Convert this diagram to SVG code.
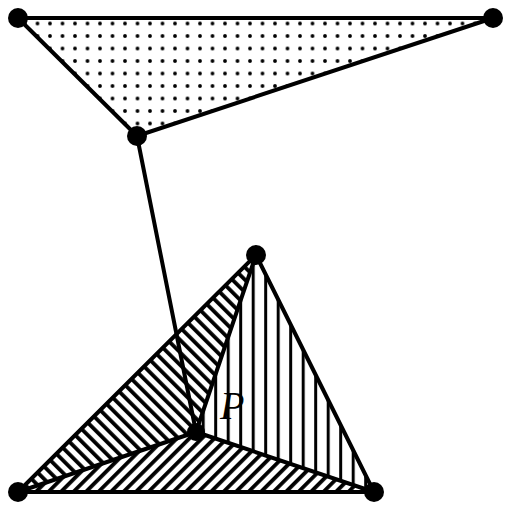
<svg xmlns="http://www.w3.org/2000/svg" width="512" height="512" viewBox="0 0 512 512">
<defs>
<pattern id="dots" patternUnits="userSpaceOnUse" x="0" y="11" width="12.5" height="12.5">
<circle cx="0" cy="0" r="1.9" fill="#000"/><circle cx="12.5" cy="0" r="1.9" fill="#000"/><circle cx="0" cy="12.5" r="1.9" fill="#000"/><circle cx="12.5" cy="12.5" r="1.9" fill="#000"/>
</pattern>
<pattern id="vlines" patternUnits="userSpaceOnUse" x="1.7" y="0" width="12.5" height="12.5">
<rect x="0" y="0" width="3" height="12.5" fill="#000"/>
</pattern>
<pattern id="ne" patternUnits="userSpaceOnUse" width="8.84" height="8.84" patternTransform="rotate(45)">
<rect x="0" y="0" width="3.8" height="8.84" fill="#000"/>
</pattern>
<pattern id="nw" patternUnits="userSpaceOnUse" width="8.84" height="8.84" patternTransform="rotate(-45)">
<rect x="0" y="0" width="3.8" height="8.84" fill="#000"/>
</pattern>
</defs>
<style>
.e{stroke:#000;stroke-width:4;stroke-linejoin:round;stroke-linecap:round;fill:none}
.v{fill:#000}
</style>
<g id="fills">
<polygon points="18,18 493,18 137,136" fill="url(#dots)"/>
<polygon points="18,492 256,255 196,432" fill="url(#nw)"/>
<polygon points="256,255 374,492 196,432" fill="url(#vlines)"/>
<polygon points="18,492 196,432 374,492" fill="url(#ne)"/>
</g>
<g id="connectors">
<polygon class="e" points="18,18 493,18 137,136"/>
<polygon class="e" points="18,492 256,255 374,492"/>
<line class="e" x1="18" y1="492" x2="196" y2="432"/>
<line class="e" x1="374" y1="492" x2="196" y2="432"/>
<line class="e" x1="256" y1="255" x2="196" y2="432"/>
<line class="e" x1="137" y1="136" x2="196" y2="432"/>
</g>
<g id="nodeA"><circle class="v" cx="18" cy="18" r="10"/></g>
<g id="nodeB"><circle class="v" cx="493" cy="18" r="10"/></g>
<g id="nodeC"><circle class="v" cx="137" cy="136" r="10"/></g>
<g id="nodeT"><circle class="v" cx="256" cy="255" r="10"/></g>
<g id="nodeL"><circle class="v" cx="18" cy="492" r="10"/></g>
<g id="nodeR"><circle class="v" cx="374" cy="492" r="10"/></g>
<g id="nodeP"><circle class="v" cx="196" cy="432" r="9"/>
<text x="220" y="419" font-family="Liberation Serif, serif" font-style="italic" font-size="40">P</text></g>
</svg>
